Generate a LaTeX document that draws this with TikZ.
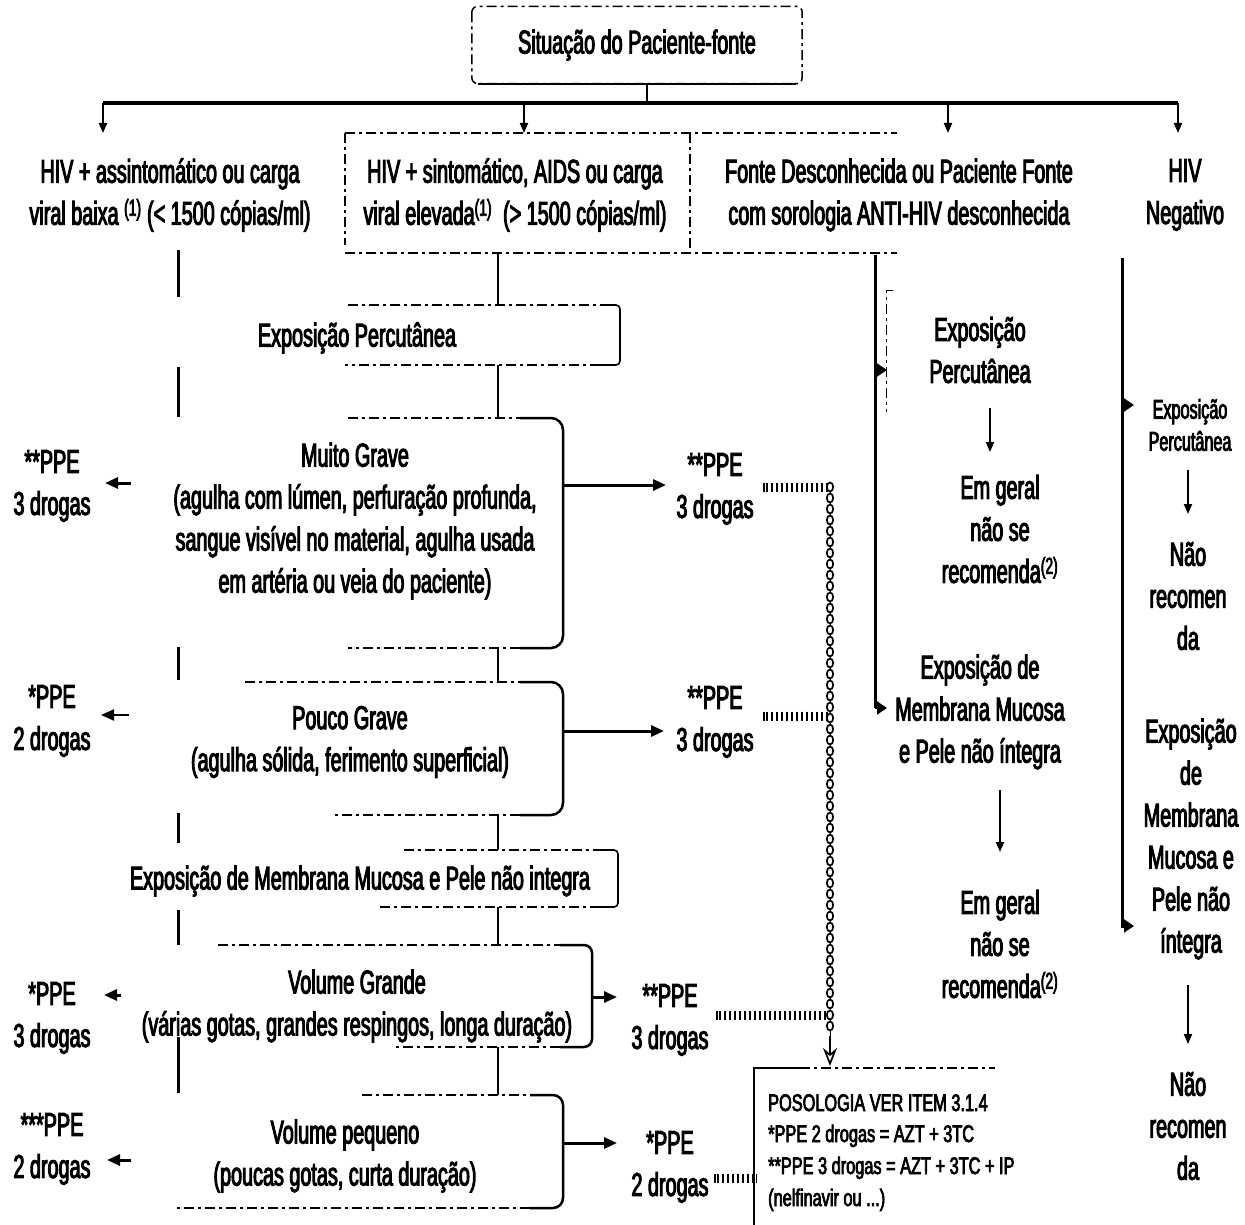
\documentclass[tikz,border=0pt]{standalone}
\usepackage{fontspec}
\setmainfont{Liberation Sans}[FakeStretch=0.6,FakeBold=3]
\newfontfamily\posfont{Liberation Sans}[FakeStretch=0.68,FakeBold=3]
\usetikzlibrary{arrows.meta,decorations.markings,decorations.pathreplacing}
\tikzset{
 txt/.style={font=\fontsize{33}{42}\selectfont, align=center, inner sep=0pt},
 smalltxt/.style={font=\fontsize{27}{32}\selectfont, align=center, inner sep=0pt},
 postxt/.style={font=\posfont\fontsize{24}{29}\selectfont, inner sep=0pt, anchor=base west},
 busline/.style={line width=3.5pt},
 colline/.style={line width=3pt},
 thinline/.style={line width=2pt},
 sidebox/.style={line width=2.5pt, rounded corners=12pt},
 thinside/.style={line width=1.6pt, rounded corners=4pt},
 dashedge/.style={line width=1.5pt, dash pattern=on 10pt off 4pt on 3pt off 4pt},
 arr/.style={-{Triangle[length=13pt,width=11pt]}, line width=3pt},
 sarr/.style={-{Triangle[length=10pt,width=8pt]}, line width=2pt},
 tip/.style={-{Triangle[length=10pt,width=13pt]}, line width=2pt},
 ladder/.style={preaction={draw, double, line width=1.8pt, double distance=5pt}, line width=1.8pt, decorate, decoration={ticks, segment length=5pt, amplitude=4.5pt}},
 chain/.style={line width=1pt, postaction={decorate, decoration={markings, mark=between positions 0 and 1 step 11pt with {\draw[line width=1.7pt, fill=white] (0,0) ellipse (4.5pt and 3.2pt);}}}},
}
\begin{document}
\begin{tikzpicture}[x=1pt,y=-1pt]
\useasboundingbox (0,0) rectangle (1245,1225);
\fill[white] (0,0) rectangle (1245,1225);

% ---------- top ----------
\node[txt, minimum width=330pt, minimum height=77pt] (top) at (637,45) {Situação do Paciente-fonte};
\draw[dashedge, rounded corners=6pt] (top.north west) rectangle (top.south east);
\draw[line width=2pt] ([xshift=6pt]top.south west) -- ([xshift=-6pt]top.south east);

\coordinate (bus) at (647,103);
\coordinate (busL) at (103,103);
\coordinate (busR) at (1178,103);
\coordinate (a1) at (103,133);
\coordinate (a2) at (524,133);
\coordinate (a3) at (948,133);
\coordinate (a4) at (1178,133);
\draw[thinline] (bus |- top.south) -- (bus);
\draw[busline] (busL) -- (busR);
\draw[sarr] (busL) -- (a1);
\draw[sarr] (a2 |- bus) -- (a2);
\draw[sarr] (a3 |- bus) -- (a3);
\draw[sarr] (busR) -- (a4);

% ---------- headings ----------
\node[txt] (h1) at (170,195) {HIV + assintomático ou carga\\viral baixa \textsuperscript{(1)} (< 1500 cópias/ml)};
\node[txt] (h2) at (515,195) {HIV + sintomático, AIDS ou carga\\viral elevada\textsuperscript{(1)}\, (> 1500 cópias/ml)};
\node[txt] (h3) at (899,195) {Fonte Desconhecida ou Paciente Fonte\\com sorologia ANTI-HIV desconhecida};
\node[txt] (h4) at (1185,195) {HIV\\Negativo};
\draw[dashedge, line width=1.2pt] (345,133) -- (897,133);
\draw[dashedge, line width=1.2pt] (345,253) -- (897,253);
\draw[dashedge, line width=1.2pt] (345,133) -- (345,245);
\draw[dashedge, line width=1.2pt] (690,133) -- (690,253);

% ---------- column 1 line ----------
\foreach \a/\b in {250/297,367/417,647/680,813/843,910/945,1037/1093}
  \draw[colline] (178,\a) -- (178,\b);

% ---------- column 2 boxes ----------
\node[txt] (ep) at (357,338) {Exposição Percutânea};
\draw[dashedge] (348,305) -- (600,305);
\draw[thinside] (600,305) -- (620,305) -- (620,365) -- (600,365);
\draw[dashedge] (600,365) -- (345,365);

\node[txt] (mg) at (355,521) {Muito Grave\\(agulha com lúmen, perfuração profunda,\\sangue visível no material, agulha usada\\em artéria ou veia do paciente)};
\draw[dashedge] (348,418) -- (520,418);
\draw[sidebox] (520,418) -- (563,418) -- (563,648) -- (520,648);
\draw[dashedge] (520,648) -- (348,648);

\node[txt] (pg) at (350,742) {Pouco Grave\\(agulha sólida, ferimento superficial)};
\draw[dashedge] (245,682) -- (520,682);
\draw[sidebox] (520,682) -- (563,682) -- (563,815) -- (520,815);
\draw[dashedge] (520,815) -- (333,815);

\node[txt] (em) at (360,881) {Exposição de Membrana Mucosa e Pele não integra};
\draw[dashedge] (404,850) -- (600,850);
\draw[thinside] (600,850) -- (618,850) -- (618,907) -- (600,907);
\draw[dashedge] (600,907) -- (377,907);

\node[txt] (vg) at (357,1006) {Volume Grande\\(várias gotas, grandes respingos, longa duração)};
\draw[dashedge] (218,945) -- (560,945);
\draw[sidebox, rounded corners=8pt] (560,945) -- (592,945) -- (592,1047) -- (560,1047);
\draw[dashedge] (560,1047) -- (396,1047);

\node[txt] (vp) at (345,1156) {Volume pequeno\\(poucas gotas, curta duração)};
\draw[dashedge] (362,1095) -- (530,1095);
\draw[sidebox, rounded corners=10pt] (530,1095) -- (563,1095) -- (563,1208) -- (530,1208);
\draw[dashedge] (530,1208) -- (175,1208);

% column 2 connecting line
\foreach \a/\b in {253/305,365/418,648/682,815/850,907/945,1047/1095}
  \draw[thinline] (498,\a) -- (498,\b);

% ---------- left labels ----------
\node[txt] (L1) at (52,486) {**PPE\\3 drogas};
\node[txt] (L2) at (52,721) {*PPE\\2 drogas};
\node[txt] (L3) at (52,1018) {*PPE\\3 drogas};
\node[txt] (L4) at (52,1149) {***PPE\\2 drogas};
\coordinate (l1a) at (131,483); \coordinate (l1b) at (105,483);
\coordinate (l2a) at (129,715); \coordinate (l2b) at (101,715);
\coordinate (l3a) at (121,995); \coordinate (l3b) at (104,995);
\coordinate (l4a) at (131,1160); \coordinate (l4b) at (107,1160);
\draw[arr] (l1a) -- (l1b);
\draw[arr, line width=2pt] (l2a) -- (l2b);
\draw[arr] (l3a) -- (l3b);
\draw[arr] (l4a) -- (l4b);

% ---------- right labels ----------
\node[txt] (R1) at (715,489) {**PPE\\3 drogas};
\node[txt] (R2) at (715,722) {**PPE\\3 drogas};
\node[txt] (R3) at (670,1020) {**PPE\\3 drogas};
\node[txt] (R4) at (670,1167) {*PPE\\2 drogas};
\coordinate (r1a) at (563,485); \coordinate (r1b) at (666,485);
\coordinate (r2a) at (563,731); \coordinate (r2b) at (664,731);
\coordinate (r3a) at (592,997); \coordinate (r3b) at (617,997);
\coordinate (r4a) at (563,1143); \coordinate (r4b) at (617,1143);
\draw[arr] (r1a) -- (r1b);
\draw[arr] (r2a) -- (r2b);
\draw[arr] (r3a) -- (r3b);
\draw[arr] (r4a) -- (r4b);

% ---------- chain and ladders ----------
\coordinate (k1) at (767,487); \coordinate (c1) at (830,487);
\coordinate (k2) at (767,716); \coordinate (c2) at (830,716);
\coordinate (k3) at (720,1015); \coordinate (c3) at (830,1015);
\coordinate (k4) at (718,1178); \coordinate (c4) at (754,1178);
\coordinate (cend) at (830,1036);
\coordinate (ctip) at (830,1066);
\draw[ladder] (k1) -- (c1);
\draw[ladder] (k2) -- (c2);
\draw[ladder] (k3) -- (c3);
\draw[ladder] (k4) -- (c4);
\draw[chain] (c1) -- (cend);
\draw[-{Stealth[open,length=18pt,width=14pt]}, line width=1.7pt] (cend) -- (ctip);

% ---------- posologia ----------
\draw[line width=2.5pt] (754,1225) -- (754,1068) -- (800,1068);
\draw[dashedge] (800,1068) -- (995,1068);
\node[postxt] (pos1) at (768,1111) {POSOLOGIA VER ITEM 3.1.4};
\node[postxt] (pos2) at (768,1142) {*PPE 2 drogas = AZT + 3TC};
\node[postxt] (pos3) at (768,1174) {**PPE 3 drogas = AZT + 3TC + IP};
\node[postxt] (pos4) at (768,1206) {(nelfinavir ou ...)};

% ---------- column 3 ----------
\draw[colline] (875,255) -- (875,708);
\coordinate (t3a) at (875,370); \coordinate (t3b) at (887,370);
\coordinate (t3c) at (875,708); \coordinate (t3d) at (887,708);
\draw[tip] (t3a) -- (t3b);
\draw[tip] (t3c) -- (t3d);
\draw[dashedge, line width=1pt] (893,290) -- (886,290) -- (886,412);
\node[txt] (c3a) at (980,350) {Exposição\\Percutânea};
\node[txt] (c3b) at (1000,529) {Em geral\\não se\\recomenda\textsuperscript{(2)}};
\node[txt] (c3c) at (980,712) {Exposição de\\Membrana Mucosa\\e Pele não íntegra};
\node[txt] (c3d) at (1000,944) {Em geral\\não se\\recomenda\textsuperscript{(2)}};
\coordinate (d1a) at (990,408); \coordinate (d1b) at (990,452);
\coordinate (d2a) at (1000,790); \coordinate (d2b) at (1000,852);
\draw[sarr] (d1a) -- (d1b);
\draw[sarr] (d2a) -- (d2b);

% ---------- column 4 ----------
\draw[colline] (1122,258) -- (1122,928);
\coordinate (t4a) at (1122,405); \coordinate (t4b) at (1134,405);
\coordinate (t4c) at (1122,926); \coordinate (t4d) at (1134,926);
\draw[tip] (t4a) -- (t4b);
\draw[tip] (t4c) -- (t4d);
\node[smalltxt] (c4a) at (1190,425) {Exposição\\Percutânea};
\node[txt] (c4b) at (1188,596) {Não\\recomen\\da};
\node[txt] (c4c) at (1191,839) {Exposição\\de\\Membrana\\Mucosa e\\Pele não\\íntegra};
\node[txt] (c4d) at (1188,1126) {Não\\recomen\\da};
\coordinate (d3a) at (1188,470); \coordinate (d3b) at (1188,514);
\coordinate (d4a) at (1188,985); \coordinate (d4b) at (1188,1044);
\draw[sarr] (d3a) -- (d3b);
\draw[sarr] (d4a) -- (d4b);
\end{tikzpicture}
\end{document}
